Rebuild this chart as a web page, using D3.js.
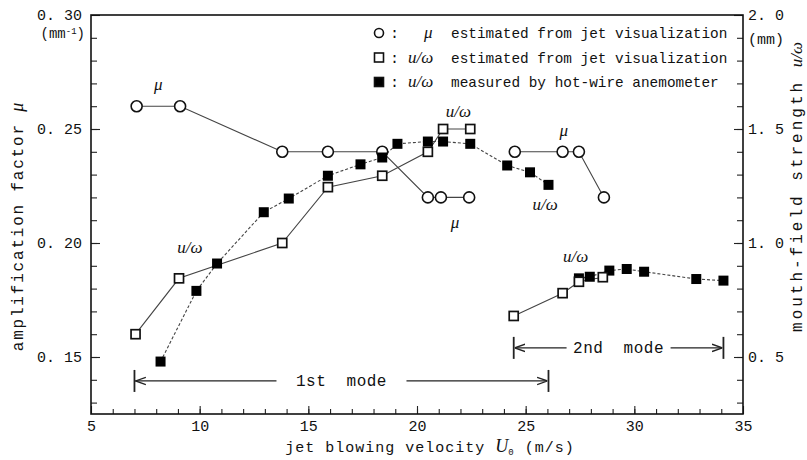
<!DOCTYPE html>
<html>
<head>
<meta charset="utf-8">
<script src="https://cdn.jsdelivr.net/npm/d3@7"></script>
<style>
  body { margin: 0; background: #fff; }
  text { fill: #111; }
  .mono { font-family: "Liberation Mono", "DejaVu Sans Mono", monospace; }
  .sym { font-family: "Liberation Serif", serif; font-style: italic; letter-spacing: 0; }
</style>
</head>
<body>
<script>
// amplification factor mu (left axis), estimated from jet visualization
const muX1 = [7.1, 9.1, 13.8, 15.9, 18.4, 20.5, 21.1, 22.4];
const muY1 = [0.26, 0.26, 0.24, 0.24, 0.24, 0.22, 0.22, 0.22];
const muX2 = [24.5, 26.7, 27.45, 28.6];
const muY2 = [0.24, 0.24, 0.24, 0.22];

// u/omega estimated from jet visualization (right axis)
const estX1 = [7.05, 9.05, 13.8, 15.9, 18.4, 20.5, 21.2, 22.45];
const estY1 = [0.60, 0.845, 1.00, 1.245, 1.295, 1.40, 1.50, 1.50];
const estX2 = [24.45, 26.7, 27.45, 28.55];
const estY2 = [0.68, 0.78, 0.83, 0.85];

// u/omega measured by hot-wire anemometer (right axis)
const hwX1 = [8.2, 9.85, 10.8, 12.95, 14.1, 15.9, 17.4, 18.4, 19.1, 20.5, 21.2, 22.45, 24.15, 25.2, 26.05];
const hwY1 = [0.48, 0.79, 0.91, 1.135, 1.195, 1.295, 1.345, 1.375, 1.435, 1.445, 1.445, 1.435, 1.34, 1.31, 1.255];
const hwX2 = [27.45, 27.95, 28.85, 29.65, 30.45, 32.85, 34.1];
const hwY2 = [0.845, 0.852, 0.879, 0.886, 0.874, 0.842, 0.835];

// mode ranges (x from, x to, level on right axis)
const modeNames = ["1st  mode", "2nd  mode"];
const modeFrom = [7.0, 24.45];
const modeTo = [26.05, 34.1];
const modeLevel = [0.395, 0.54];

// curve labels (x, value, axis)
const noteText = ["μ", "u/ω", "μ", "μ", "u/ω", "u/ω", "u/ω"];
const noteX = [8.1, 21.9, 26.75, 21.75, 25.9, 27.3, 9.55];
const noteV = [0.267, 1.553, 0.247, 0.2066, 1.145, 0.917, 0.956];
const noteAxis = ["L", "R", "L", "L", "R", "R", "R"];

const xTicks = [5, 10, 15, 20, 25, 30, 35];
const yLTicks = [0.15, 0.20, 0.25, 0.30];
const yRTicks = [0.5, 1.0, 1.5, 2.0];

const legendLabels = [
  ["μ", "estimated from jet visualization"],
  ["u/ω", "estimated from jet visualization"],
  ["u/ω", "measured by hot-wire anemometer"]
];

// Set the dimensions
var margin = {top: 15, right: 64, bottom: 46, left: 91};
var width = 807 - margin.left - margin.right;
var height = 460 - margin.top - margin.bottom;

var svg = d3.select("body").append("svg")
    .attr("width", 807)
    .attr("height", 460);

var chart = svg.append("g")
    .attr("transform", `translate(${margin.left},${margin.top})`);

var x = d3.scaleLinear().domain([5, 35]).range([0, width]);
var yL = d3.scaleLinear().domain([0.125, 0.30]).range([height, 0]);
var yR = d3.scaleLinear().domain([0.25, 2.0]).range([height, 0]);

// minor ticks
chart.append("g")
    .attr("transform", `translate(0,${height})`)
    .call(d3.axisBottom(x).tickValues(d3.range(6, 35, 1)).tickSize(-5).tickFormat(""));
chart.append("g")
    .call(d3.axisLeft(yL).tickValues(d3.range(0.13, 0.295, 0.01)).tickSize(-6).tickFormat(""));
chart.append("g")
    .attr("transform", `translate(${width},0)`)
    .call(d3.axisRight(yR).tickValues(d3.range(0.3, 1.95, 0.1)).tickSize(-6).tickFormat(""));

// major ticks
chart.append("g")
    .attr("transform", `translate(0,${height})`)
    .call(d3.axisBottom(x).tickValues(xTicks).tickSize(-8).tickPadding(6).tickFormat(d3.format("d")));
chart.append("g")
    .call(d3.axisLeft(yL).tickValues(yLTicks).tickSize(-9).tickPadding(9).tickFormat(d => d3.format(".2f")(d).replace(".", ". ")));
chart.append("g")
    .attr("transform", `translate(${width},0)`)
    .call(d3.axisRight(yR).tickValues(yRTicks).tickSize(-9).tickPadding(5).tickFormat(d => d3.format(".1f")(d).replace(".", ". ")));

chart.selectAll(".domain").remove();
chart.selectAll(".tick line").attr("stroke", "#222").attr("stroke-width", 1.1);
chart.selectAll(".tick text").attr("class", "mono").style("font-size", "15px").attr("fill", "#111");

// frame
chart.append("rect")
    .attr("width", width).attr("height", height)
    .attr("fill", "none").attr("stroke", "#111").attr("stroke-width", 1.6);

// units
var uL = chart.append("text").attr("class", "mono").style("font-size", "14px")
    .attr("x", -6).attr("y", yL(0.2898)).attr("text-anchor", "end");
uL.append("tspan").text("(mm");
uL.append("tspan").attr("dy", -4).style("font-size", "9px").text("-1");
uL.append("tspan").attr("dy", 4).text(")");
chart.append("text").attr("class", "mono").style("font-size", "15px")
    .attr("x", width + 5).attr("y", yR(1.872)).text("(mm)");

// axis titles
var xt = chart.append("text").attr("class", "mono").style("font-size", "15px")
    .style("letter-spacing", "1px")
    .attr("x", x(20.6)).attr("y", height + 38).attr("text-anchor", "middle");
xt.append("tspan").text("jet blowing velocity ");
xt.append("tspan").attr("class", "sym").style("font-size", "18px").text("U");
xt.append("tspan").attr("dy", 3).style("font-size", "9px").text("0");
xt.append("tspan").attr("dy", -3).text(" (m/s)");

var lt = svg.append("text").attr("class", "mono").style("font-size", "16px")
    .style("letter-spacing", "1.8px")
    .attr("transform", "translate(23,227) rotate(-90)").attr("text-anchor", "middle");
lt.append("tspan").text("amplification factor ");
lt.append("tspan").attr("class", "sym").style("font-size", "18px").text("μ");

var rt = svg.append("text").attr("class", "mono").style("font-size", "16px")
    .style("letter-spacing", "3px")
    .attr("transform", "translate(802,187) rotate(-90)").attr("text-anchor", "middle");
rt.append("tspan").text("mouth-field strength ");
rt.append("tspan").attr("class", "sym").style("font-size", "17px").text("u/ω");

// series
function series(xs, ys) { return xs.map((v, i) => [v, ys[i]]); }
const lineL = d3.line().x(d => x(d[0])).y(d => yL(d[1]));
const lineR = d3.line().x(d => x(d[0])).y(d => yR(d[1]));

[series(muX1, muY1), series(muX2, muY2)].forEach(s => {
  chart.append("path").datum(s).attr("d", lineL)
      .attr("fill", "none").attr("stroke", "#444").attr("stroke-width", 1.1);
});
[series(estX1, estY1), series(estX2, estY2)].forEach(s => {
  chart.append("path").datum(s).attr("d", lineR)
      .attr("fill", "none").attr("stroke", "#444").attr("stroke-width", 1.1);
});
[series(hwX1, hwY1), series(hwX2, hwY2)].forEach(s => {
  chart.append("path").datum(s).attr("d", lineR)
      .attr("fill", "none").attr("stroke", "#444").attr("stroke-width", 1.1)
      .attr("stroke-dasharray", "3,2");
});

// markers
chart.selectAll(".mu").data(series(muX1, muY1).concat(series(muX2, muY2)))
  .enter().append("circle")
    .attr("cx", d => x(d[0])).attr("cy", d => yL(d[1])).attr("r", 5.5)
    .attr("fill", "#fff").attr("stroke", "#111").attr("stroke-width", 1.6);

chart.selectAll(".hw").data(series(hwX1, hwY1).concat(series(hwX2, hwY2)))
  .enter().append("rect")
    .attr("x", d => x(d[0]) - 5).attr("y", d => yR(d[1]) - 5)
    .attr("width", 10).attr("height", 10).attr("fill", "#000");

chart.selectAll(".est").data(series(estX1, estY1).concat(series(estX2, estY2)))
  .enter().append("rect")
    .attr("x", d => x(d[0]) - 4.5).attr("y", d => yR(d[1]) - 4.5)
    .attr("width", 9).attr("height", 9)
    .attr("fill", "#fff").attr("stroke", "#111").attr("stroke-width", 1.7);

// curve labels
chart.selectAll(".note").data(noteText)
  .enter().append("text")
    .attr("class", "sym").style("font-size", "17px").attr("text-anchor", "middle")
    .attr("x", (d, i) => x(noteX[i]))
    .attr("y", (d, i) => noteAxis[i] === "L" ? yL(noteV[i]) : yR(noteV[i]))
    .text(d => d);

// mode arrows
svg.append("defs").append("marker")
    .attr("id", "arr").attr("viewBox", "0 0 10 10").attr("refX", 10).attr("refY", 5)
    .attr("markerWidth", 8).attr("markerHeight", 8).attr("orient", "auto-start-reverse")
  .append("path").attr("d", "M0,1.5 L10,5 L0,8.5").attr("fill", "none").attr("stroke", "#222").attr("stroke-width", 1.3);

modeNames.forEach((name, i) => {
  var g = chart.append("g");
  var y0 = yR(modeLevel[i]);
  var x0 = x(modeFrom[i]), x1 = x(modeTo[i]);
  var mid = (x0 + x1) / 2;
  var gap = i === 0 ? 65 : 52;
  g.append("line").attr("x1", x0).attr("x2", x0).attr("y1", y0 - 11).attr("y2", y0 + 11)
      .attr("stroke", "#222").attr("stroke-width", 1.8);
  g.append("line").attr("x1", x1).attr("x2", x1).attr("y1", y0 - 11).attr("y2", y0 + 11)
      .attr("stroke", "#222").attr("stroke-width", 1.8);
  g.append("line").attr("x1", mid - gap).attr("x2", x0 + 1).attr("y1", y0).attr("y2", y0)
      .attr("stroke", "#222").attr("stroke-width", 1.3).attr("marker-end", "url(#arr)");
  g.append("line").attr("x1", mid + gap).attr("x2", x1 - 1).attr("y1", y0).attr("y2", y0)
      .attr("stroke", "#222").attr("stroke-width", 1.3).attr("marker-end", "url(#arr)");
  g.append("text").attr("class", "mono").style("font-size", "16px").style("letter-spacing", "0.5px")
      .attr("x", mid).attr("y", y0 + 5).attr("text-anchor", "middle")
      .attr("xml:space", "preserve").text(name);
});

// legend
var legend = svg.append("g").attr("transform", "translate(379,0)");
legendLabels.forEach((lab, i) => {
  var cy = 33 + i * 24.5;
  if (i === 0) {
    legend.append("circle").attr("cx", 0).attr("cy", cy).attr("r", 4.5)
        .attr("fill", "#fff").attr("stroke", "#111").attr("stroke-width", 1.6);
  } else {
    legend.append("rect").attr("x", -4.5).attr("y", cy - 4.5).attr("width", 9).attr("height", 9)
        .attr("fill", i === 1 ? "#fff" : "#000").attr("stroke", "#111").attr("stroke-width", 1.6);
  }
  legend.append("text").attr("class", "mono").style("font-size", "15px")
      .attr("x", 11).attr("y", cy + 5).text(":");
  legend.append("text").attr("class", "sym").style("font-size", "17px")
      .attr("x", i === 0 ? 45 : 29).attr("y", cy + 5).text(lab[0]);
  legend.append("text").attr("class", "mono").style("font-size", "14.4px")
      .attr("x", 72).attr("y", cy + 5).text(lab[1]);
});
</script>
</body>
</html>
